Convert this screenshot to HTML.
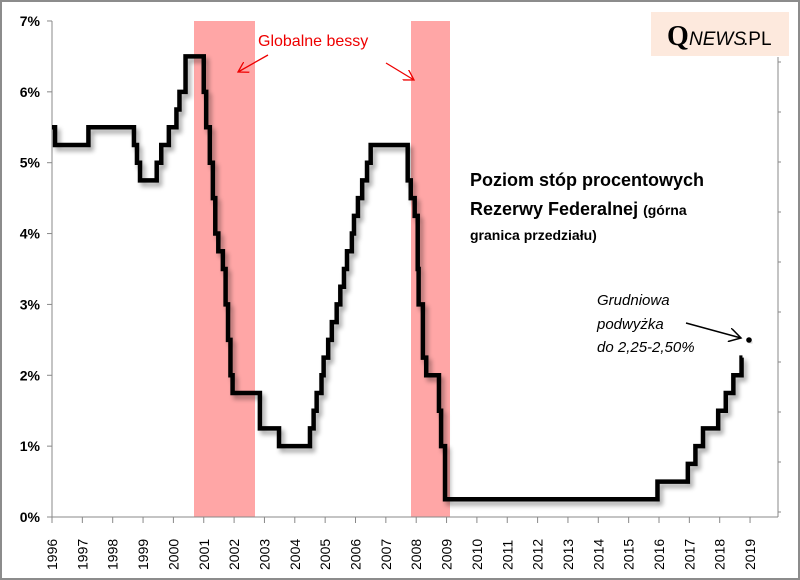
<!DOCTYPE html>
<html><head><meta charset="utf-8"><style>
body{margin:0;width:800px;height:580px;overflow:hidden;background:#fff;font-family:"Liberation Sans",sans-serif}
</style></head><body>
<svg id="s" width="800" height="580" xmlns="http://www.w3.org/2000/svg" style="position:absolute;left:0;top:0">
<defs><filter id="sh" x="-5%" y="-5%" width="110%" height="110%"><feGaussianBlur in="SourceAlpha" stdDeviation="2.5"/><feOffset dx="3" dy="4"/><feComponentTransfer><feFuncA type="linear" slope="0.35"/></feComponentTransfer><feMerge><feMergeNode/><feMergeNode in="SourceGraphic"/></feMerge></filter>
<marker id="ar" markerWidth="12" markerHeight="12" refX="10" refY="6" orient="auto" markerUnits="userSpaceOnUse"><path d="M0,0 L10,6 L0,12" fill="none" stroke="#e00" stroke-width="1.3"/></marker>
<marker id="ak" markerWidth="14" markerHeight="14" refX="12" refY="7" orient="auto" markerUnits="userSpaceOnUse"><path d="M0,0 L12,7 L0,14" fill="none" stroke="#000" stroke-width="1.5"/></marker>
</defs>
<rect x="1" y="1" width="798" height="578" fill="#fff" stroke="#8c8c8c" stroke-width="2"/>
<rect x="194" y="21" width="61" height="496" fill="#ffa6a6"/>
<rect x="411" y="21" width="39" height="496" fill="#ffa6a6"/>
<g id="ax" stroke="#888" stroke-width="1"></g>
<g id="lab" font-size="14" fill="#000"></g>
<path id="ln" fill="none" stroke="#000" stroke-width="4.5" stroke-linejoin="miter" filter="url(#sh)"/>
<circle cx="749" cy="340" r="2.8" fill="#000" filter="url(#sh)"/>
<rect x="651" y="12" width="138" height="44" fill="#fde9dd"/>
<text x="667" y="45" font-family="Liberation Serif,serif" font-weight="bold" font-size="28">Q</text>
<text x="689" y="45" font-family="Liberation Sans,sans-serif" font-style="italic" font-size="19">NEWS</text>
<text x="743" y="45" font-family="Liberation Sans,sans-serif" font-size="19">.PL</text>
<text x="258" y="46" fill="#e00" font-size="16">Globalne bessy</text>
<line x1="268" y1="55" x2="238" y2="72" stroke="#e00" stroke-width="1.3" marker-end="url(#ar)"/>
<line x1="386" y1="63" x2="414" y2="80" stroke="#e00" stroke-width="1.3" marker-end="url(#ar)"/>
<text x="470" y="186" font-weight="bold" font-size="18">Poziom stóp procentowych</text>
<text x="470" y="215" font-weight="bold" font-size="18">Rezerwy Federalnej <tspan font-size="14">(górna</tspan></text>
<text x="470" y="240" font-weight="bold" font-size="14">granica przedziału)</text>
<g font-style="italic" font-size="15"><text x="597" y="305">Grudniowa</text><text x="597" y="329">podwyżka</text><text x="597" y="352">do 2,25-2,50%</text></g>
<line x1="686" y1="323" x2="741" y2="338" stroke="#000" stroke-width="1.5" marker-end="url(#ak)"/>
</svg>
<script>
var X=function(y){return 52+30.35*(y-1996)},Y=function(v){return 517-70.86*v};
var ax=document.getElementById('ax'),lab=document.getElementById('lab'),ns='http://www.w3.org/2000/svg';
function el(p,t,a,txt){var e=document.createElementNS(ns,t);for(var k in a)e.setAttribute(k,a[k]);if(txt)e.textContent=txt;p.appendChild(e);return e;}
el(ax,'line',{x1:52,y1:21,x2:52,y2:517});el(ax,'line',{x1:52,y1:517,x2:778,y2:517});el(ax,'line',{x1:778,y1:57,x2:778,y2:517});
for(var i=0;i<=7;i++){el(ax,'line',{x1:47,y1:Y(i),x2:52,y2:Y(i)});el(lab,'text',{x:40,y:Y(i)+5,'text-anchor':'end','font-weight':'bold'},i+'%');}
for(var y=1996;y<=2019;y++){var x=X(y);el(ax,'line',{x1:x,y1:517,x2:x,y2:523});el(lab,'text',{transform:'translate('+(x+5)+',570) rotate(-90)'},''+y);}
for(var j=0;j<10;j++){el(ax,'line',{x1:778,y1:62+j*50,x2:781,y2:62+j*50});}
var d=[[1996,5.5],[1996.1,5.25],[1997.2,5.5],[1998.7,5.25],[1998.8,5],[1998.9,4.75],[1999.45,5],[1999.6,5.25],[1999.85,5.5],[2000.1,5.75],[2000.2,6],[2000.4,6.5],[2001.0,6],[2001.08,5.5],[2001.2,5],[2001.3,4.5],[2001.38,4],[2001.48,3.75],[2001.63,3.5],[2001.72,3],[2001.8,2.5],[2001.88,2],[2001.95,1.75],[2002.85,1.25],[2003.48,1],[2004.5,1.25],[2004.62,1.5],[2004.72,1.75],[2004.88,2],[2004.95,2.25],[2005.1,2.5],[2005.22,2.75],[2005.38,3],[2005.5,3.25],[2005.62,3.5],[2005.72,3.75],[2005.88,4],[2005.95,4.25],[2006.08,4.5],[2006.22,4.75],[2006.38,5],[2006.5,5.25],[2007.72,4.75],[2007.82,4.5],[2007.95,4.25],[2008.05,3.5],[2008.08,3],[2008.22,2.25],[2008.33,2],[2008.75,1.5],[2008.82,1],[2008.95,0.25],[2015.95,0.5],[2016.95,0.75],[2017.2,1],[2017.45,1.25],[2017.95,1.5],[2018.2,1.75],[2018.45,2],[2018.72,2.25],[2018.75,2.25]];
var p='M'+X(d[0][0])+','+Y(d[0][1]);
for(var k=1;k<d.length;k++){p+=' L'+X(d[k][0])+','+Y(d[k-1][1])+' L'+X(d[k][0])+','+Y(d[k][1]);}
document.getElementById('ln').setAttribute('d',p);
</script>
</body></html>
